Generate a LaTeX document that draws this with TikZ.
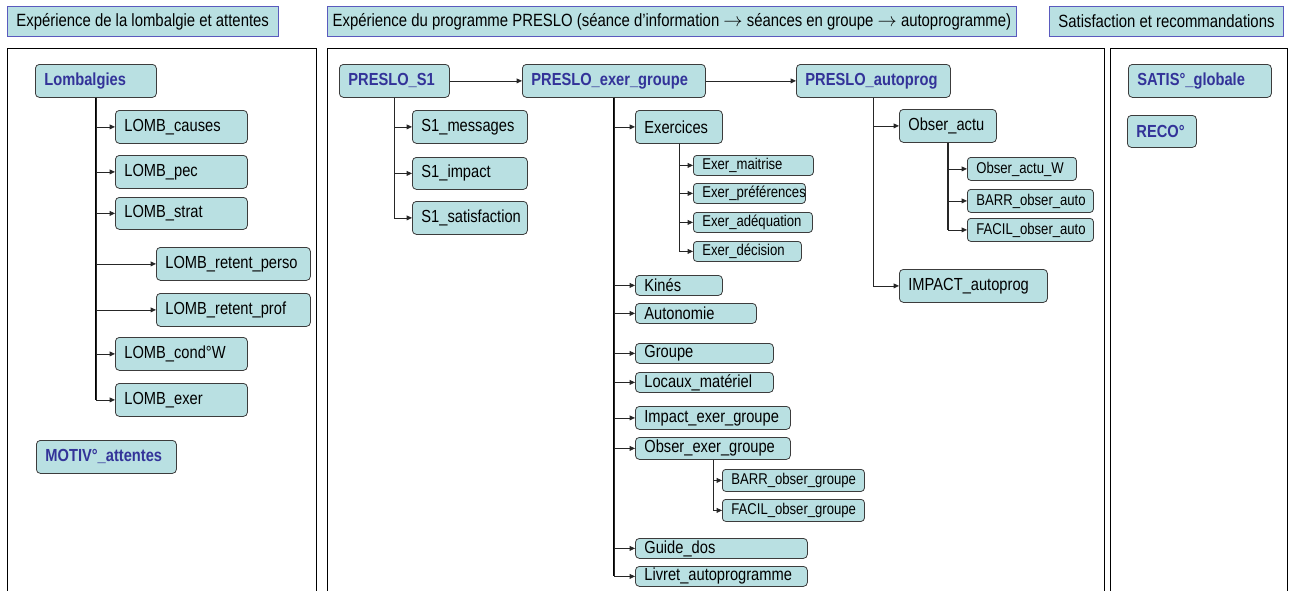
\documentclass[tikz,border=0pt]{standalone}
\usepackage{fontspec}
\setmainfont{Liberation Sans}[FakeStretch=0.84]
\usetikzlibrary{arrows.meta}

\definecolor{fond}{RGB}{185,224,226}
\definecolor{trait}{RGB}{60,60,60}
\definecolor{titre}{RGB}{51,51,153}
\definecolor{bleucadre}{RGB}{90,90,190}

\begin{document}
\begin{tikzpicture}[
    x=0.75pt, y=-0.75pt,
    every node/.style={anchor=north west, inner ysep=0pt, inner xsep=6.75pt, align=left},
    wd/.style={text width=#1*0.75pt-13.5pt},
    wc/.style={minimum width=#1*0.75pt},
    ht/.style={minimum height=#1*0.75pt},
    bandeau/.style={rectangle, draw=bleucadre, line width=0.6pt, fill=fond, font=\fontsize{13.3}{15}\selectfont},
    var/.style={rectangle, rounded corners=3pt, draw=trait, line width=0.6pt, fill=fond, font=\fontsize{13.1}{15}\selectfont},
    cat/.style={var, text=titre, font=\fontsize{13.1}{15}\selectfont\bfseries},
    petit/.style={var, rounded corners=2.5pt, font=\fontsize{11.7}{13}\selectfont},
    cadre/.style={draw=black, line width=0.75pt},
    tronc/.style={draw=black, line width=1.3pt},
    tronc2/.style={draw=black!85, line width=0.9pt},
    branche/.style={-{Triangle[length=4pt,width=3.6pt]}, draw=black!85, line width=0.6pt}
]
\useasboundingbox (0,0) rectangle (1291,590);

% bandeaux
\node[bandeau, wc=268, ht=30] (h1) at (7,6) {Expérience de la lombalgie et attentes};
\node[bandeau, wc=689, ht=30, inner xsep=3pt] (h2) at (327,6) {Expérience du programme PRESLO (séance d'information $\rightarrow$ séances en groupe $\rightarrow$ autoprogramme)};
\node[bandeau, wc=232, ht=30] (h3) at (1049,6) {Satisfaction et recommandations};

% cadres
\draw[cadre] (7,592) -- (7,48) -- (316,48) -- (316,592);
\draw[cadre] (327,592) -- (327,48) -- (1104,48) -- (1104,592);
\draw[cadre] (1110,592) -- (1110,48) -- (1287,48) -- (1287,592);

% lombalgie
\node[cat, wd=121, ht=33] (lomb) at (35,64) {Lombalgies};
\node[var, wd=132, ht=33] (causes) at (115,110) {LOMB\_causes};
\node[var, wd=132, ht=33] (pec) at (115,155) {LOMB\_pec};
\node[var, wd=132, ht=32] (strat) at (115,197) {LOMB\_strat};
\node[var, wd=154, ht=33] (rperso) at (156,247) {LOMB\_retent\_perso};
\node[var, wd=154, ht=33] (rprof) at (156,293) {LOMB\_retent\_prof};
\node[var, wd=132, ht=33] (condw) at (115,337) {LOMB\_cond°W};
\node[var, wd=132, ht=33] (exer) at (115,383) {LOMB\_exer};
\node[cat, wd=140, ht=33] (motiv) at (36,440) {MOTIV°\_attentes};

% programme PRESLO
\node[cat, wd=110, ht=33] (s1) at (339,64) {PRESLO\_S1};
\node[cat, wd=183, ht=33] (grp) at (522,64) {PRESLO\_exer\_groupe};
\node[cat, wd=154, ht=33] (auto) at (796,64) {PRESLO\_autoprog};

\node[var, wd=115, ht=33] (msg) at (412,110) {S1\_messages};
\node[var, wd=115, ht=32] (imp) at (412,157) {S1\_impact};
\node[var, wd=115, ht=33] (sat) at (412,201) {S1\_satisfaction};

\node[var, wd=87, ht=33] (exo) at (635,110) {Exercices};
\node[petit, wd=120, ht=20] (maitr) at (693,155) {Exer\_maitrise};
\node[petit, wd=112, ht=20] (pref) at (693,183) {Exer\_préférences};
\node[petit, wd=119, ht=20] (adeq) at (693,212) {Exer\_adéquation};
\node[petit, wd=108, ht=20] (deci) at (693,241) {Exer\_décision};
\node[var, wd=87, ht=20] (kine) at (635,275) {Kinés};
\node[var, wd=121, ht=20] (auton) at (635,303) {Autonomie};
\node[var, wd=138, ht=20] (groupe) at (635,343) {Groupe};
\node[var, wd=138, ht=20] (locaux) at (635,372) {Locaux\_matériel};
\node[var, wd=155, ht=23] (impg) at (635,406) {Impact\_exer\_groupe};
\node[var, wd=155, ht=22] (obsg) at (635,437) {Obser\_exer\_groupe};
\node[petit, wd=142, ht=22] (barrg) at (722,469) {BARR\_obser\_groupe};
\node[petit, wd=142, ht=22] (facilg) at (722,499) {FACIL\_obser\_groupe};
\node[var, wd=172, ht=20] (guide) at (635,538) {Guide\_dos};
\node[var, wd=172, ht=20] (livret) at (635,566) {Livret\_autoprogramme};

\node[var, wd=97, ht=33] (obsa) at (899,109) {Obser\_actu};
\node[petit, wd=109, ht=23] (obsw) at (967,157) {Obser\_actu\_W};
\node[petit, wd=126, ht=23] (barra) at (967,189) {BARR\_obser\_auto};
\node[petit, wd=126, ht=23] (facila) at (967,218) {FACIL\_obser\_auto};
\node[var, wd=148, ht=33] (impa) at (899,269) {IMPACT\_autoprog};

% satisfaction
\node[cat, wd=143, ht=33] (satis) at (1128,64) {SATIS°\_globale};
\node[cat, wd=69, ht=32] (reco) at (1127,115) {RECO°};

% liens
\draw[branche] (s1) -- (grp);
\draw[branche] (grp) -- (auto);

\draw[tronc] (lomb.south) -- (lomb.south |- exer.west);
\foreach \f in {causes,pec,strat,rperso,rprof,condw,exer}
  \draw[branche] (lomb.south) |- (\f.west);

\draw[tronc2] (s1.south) -- (s1.south |- sat.west);
\foreach \f in {msg,imp,sat}
  \draw[branche] (s1.south) |- (\f.west);

\draw[tronc] (grp.south) -- (grp.south |- livret.west);
\foreach \f in {exo,kine,auton,groupe,locaux,impg,obsg,guide,livret}
  \draw[branche] (grp.south) |- (\f.west);

\foreach \f in {maitr,pref,adeq,deci}
  \draw[branche] (exo.south) |- (\f.west);
\foreach \f in {barrg,facilg}
  \draw[branche] (obsg.south) |- (\f.west);

\draw[tronc2] (auto.south) -- (auto.south |- impa.west);
\foreach \f in {obsa,impa}
  \draw[branche] (auto.south) |- (\f.west);

\draw[tronc2] (obsa.south) -- (obsa.south |- facila.west);
\foreach \f in {obsw,barra,facila}
  \draw[branche] (obsa.south) |- (\f.west);
\end{tikzpicture}
\end{document}
